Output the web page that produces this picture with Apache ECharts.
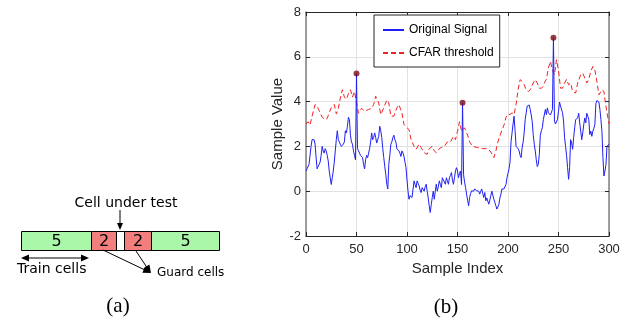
<!DOCTYPE html>
<html>
<head>
<meta charset="utf-8">
<script src="https://cdn.jsdelivr.net/npm/echarts@6/dist/echarts.min.js"></script>
<style>
  html, body { margin: 0; padding: 0; background: #fff; }
  #main { width: 626px; height: 320px; }
</style>
</head>
<body>
<div id="main"></div>
<script>
// sample values of the original signal, index 0..300
var signal = [
  0.9, 1.0, 1.0, 1.2, 1.6, 2.0, 2.3, 2.3, 2.3, 2.1,
  1.5, 1.0, 1.1, 1.2, 1.3, 1.6, 2.0, 1.8, 1.7, 1.9,
  1.8, 1.6, 1.35, 0.9, 0.6, 0.3, 0.6, 0.9, 1.3, 1.8,
  2.3, 2.7, 2.3, 2.2, 2.1, 2.0, 2.0, 2.1, 2.2, 2.7,
  2.6, 2.9, 3.3, 3.2, 2.5, 2.2, 2.1, 1.8, 1.6, 1.4,
  5.25, 1.9, 1.8, 1.8, 1.6, 1.6, 1.5, 1.2, 1.0, 1.4,
  1.6, 1.5, 1.7, 1.9, 2.2, 2.6, 2.3, 2.4, 2.6, 2.4,
  2.15, 2.3, 2.45, 2.9, 2.7, 2.4, 1.9, 1.5, 1.1, 0.75,
  0.3, 0.1, 1.2, 1.6, 2.1, 2.2, 2.4, 2.5, 2.3, 2.2,
  1.9, 1.85, 1.8, 1.7, 1.55, 1.8, 1.7, 1.55, 1.3, 1.05,
  0.5, 0.0, -0.36, -0.2, -0.13, -0.28, 0.1, 0.46, 0.3, 0.16,
  0.46, 0.35, 0.24, 0.05, -0.06, 0.16, 0.1, 0.0, 0.2, 0.31,
  0.0, -0.3, -0.65, -0.95, -0.6, -0.28, 0.0, -0.36, 0.0, 0.31,
  0.0, 0.2, 0.46, 0.3, 0.16, 0.6, 0.5, 0.46, 0.31, 0.6,
  0.45, 0.31, 0.6, 0.7, 0.83, 0.5, 0.31, 0.6, 0.9, 1.05,
  0.9, 0.6, 0.8, 0.9, 0.3, 3.95, 0.75, 0.4, 0.16, -0.13,
  -0.4, -0.65, -0.28, -0.1, 0.02, -0.06, 0.0, 0.1, 0.05, 0.02,
  0.02, 0.0, -0.13, 0.0, 0.1, -0.1, -0.28, -0.06, -0.43, -0.3,
  -0.28, -0.58, -0.4, -0.2, 0.0, 0.02, -0.36, -0.5, -0.65, -0.8,
  -0.7, -0.58, -0.3, -0.13, 0.1, 0.16, 0.1, 0.16, 0.3, 0.6,
  0.8, 1.0, 1.3, 2.2, 2.6, 3.0, 3.35, 2.7, 2.0, 1.94,
  1.9, 1.8, 1.6, 1.5, 1.94, 2.2, 2.6, 3.2, 3.5, 3.8,
  3.87, 3.85, 3.65, 3.4, 3.1, 2.5, 2.1, 1.8, 1.4, 1.1,
  1.2, 1.64, 2.5, 2.7, 2.83, 3.2, 3.13, 3.65, 3.42, 3.72,
  3.5, 3.57, 3.4, 3.35, 3.65, 6.85, 3.13, 3.0, 2.98, 3.2,
  3.57, 3.98, 3.8, 3.85, 3.5, 3.13, 2.4, 2.0, 1.6, 1.05,
  0.53, 1.05, 2.3, 2.15, 1.87, 2.4, 2.83, 3.2, 3.2, 3.27,
  3.48, 3.05, 2.68, 2.3, 2.6, 2.98, 3.27, 3.05, 3.48, 3.35,
  3.2, 2.53, 2.68, 2.45, 2.68, 2.8, 2.98, 3.9, 4.05, 4.0,
  3.98, 3.65, 3.2, 2.68, 1.5, 0.68, 0.9, 1.2, 2.0, 2.05,
  2.1
];

// CFAR threshold, read at these sample indices
var thrIdx = [
  0, 2, 4, 6, 9, 11, 13, 16, 19, 21, 23, 25, 28, 30, 32, 34, 36, 38, 40, 42,
  44, 46, 48, 50, 52, 55, 58, 62, 65, 67, 69, 72, 74, 77, 80, 82, 84, 87, 90, 92,
  95, 97, 100, 102, 104, 107, 109, 112, 114, 117, 120, 122, 125, 127, 129, 132, 134, 137, 140, 143,
  146, 148, 150, 152, 154, 155, 157, 158, 160, 162, 165, 170, 175, 180, 183, 186, 188, 190, 193, 196,
  198, 200, 202, 204, 206, 208, 210, 212, 214, 216, 218, 220, 222, 225, 227, 229, 231, 233, 235, 236,
  238, 240, 242, 244, 246, 248, 250, 252, 254, 256, 258, 260, 262, 264, 267, 269, 272, 274, 276, 278,
  280, 282, 284, 286, 288, 290, 291, 293, 295, 296, 298, 300
];
var thrVal = [
  3.0, 3.1, 2.95, 3.35, 3.87, 3.8, 3.6, 3.3, 3.2, 3.25, 3.5, 3.72, 3.87, 3.45, 3.7, 4.16, 4.53, 4.2, 4.1, 4.35,
  4.53, 4.2, 4.45, 3.94, 3.48, 3.7, 3.57, 3.65, 3.7, 3.87, 4.24, 3.94, 3.42, 3.72, 4.08, 3.94, 3.35, 3.35, 3.72, 3.87,
  3.48, 2.98, 2.83, 2.75, 2.3, 2.0, 1.87, 2.1, 1.95, 1.72, 1.65, 1.9, 2.0, 1.8, 1.72, 1.9, 1.95, 2.0, 2.2, 2.2,
  2.45, 2.3, 2.68, 3.1, 2.68, 2.6, 2.83, 2.9, 2.5, 2.2, 2.0, 1.95, 1.9, 1.9, 1.75, 1.5, 1.8, 2.2, 2.6, 2.95,
  3.3, 3.45, 3.42, 3.5, 3.42, 3.87, 4.53, 4.98, 4.9, 4.75, 4.53, 4.45, 4.53, 4.83, 4.98, 4.83, 4.6, 4.6, 4.68, 4.83,
  5.0, 5.5, 5.8, 5.4, 5.2, 5.87, 5.4, 4.6, 4.6, 4.83, 5.0, 4.75, 4.83, 4.45, 4.38, 4.83, 5.2, 5.27, 5.05, 4.83,
  5.0, 5.35, 5.57, 5.42, 4.9, 4.3, 4.3, 4.53, 4.45, 4.08, 3.5, 3.0
];

// detected peaks
var peakIdx = [50, 155, 245];
var peakVal = [5.25, 3.95, 6.85];

var xTicks = { min: 0, max: 300, interval: 50 };
var yTicks = { min: -2, max: 8, interval: 2 };

// window layout of panel (a)
var cellLabels = ['5', '2', '', '2', '5'];

var myChart = echarts.init(document.getElementById('main'));

var axisFont = 'Liberation Sans';
var dgFont = 'DejaVu Sans';

function arrowHead(x1, y1, x2, y2, len, half) {
  var a = Math.atan2(y2 - y1, x2 - x1);
  var bx = x2 - len * Math.cos(a), by = y2 - len * Math.sin(a);
  return {
    type: 'polygon',
    shape: { points: [[x2, y2],
      [bx + half * Math.sin(a), by - half * Math.cos(a)],
      [bx - half * Math.sin(a), by + half * Math.cos(a)]] },
    style: { fill: '#000' }
  };
}
function seg(x1, y1, x2, y2) {
  return { type: 'line', shape: { x1: x1, y1: y1, x2: x2, y2: y2 }, style: { stroke: '#000', lineWidth: 1 } };
}

// cells of the CFAR window
var cellX = [21, 91, 116, 124, 151, 219];
var cellFill = ['#aaf7aa', '#f27e7e', '#ffffff', '#f27e7e', '#aaf7aa'];
var diagram = [];
for (var k = 0; k < cellLabels.length; k++) {
  diagram.push({
    type: 'rect',
    shape: { x: cellX[k] + 0.5, y: 231.5, width: cellX[k + 1] - cellX[k], height: 19 },
    style: { fill: cellFill[k], stroke: '#000', lineWidth: 1 }
  });
  if (cellLabels[k]) {
    diagram.push({
      type: 'text',
      style: { x: (cellX[k] + cellX[k + 1]) / 2 + 0.5, y: 241.5, text: cellLabels[k],
        fill: '#000', font: '16px "' + dgFont + '"', align: 'center', verticalAlign: 'middle' }
    });
  }
}
diagram.push(
  { type: 'text', style: { x: 126, y: 203, text: 'Cell under test', fill: '#000',
      font: '14px "' + dgFont + '"', align: 'center', verticalAlign: 'middle' } },
  seg(120, 210, 120, 224), arrowHead(120, 210, 120, 230, 7, 3),
  seg(26, 258, 83, 258), arrowHead(50, 258, 21, 258, 8, 3.5), arrowHead(60, 258, 89, 258, 8, 3.5),
  { type: 'text', style: { x: 17, y: 269, text: 'Train cells', fill: '#000',
      font: '14px "' + dgFont + '"', align: 'left', verticalAlign: 'middle' } },
  seg(103, 250, 145, 270), arrowHead(103, 250, 151, 273, 8, 3.5),
  seg(136, 251, 148, 269), arrowHead(136, 251, 151, 273, 8, 3.5),
  { type: 'text', style: { x: 157, y: 273, text: 'Guard cells', fill: '#000',
      font: '12px "' + dgFont + '"', align: 'left', verticalAlign: 'middle' } },
  { type: 'text', style: { x: 118, y: 306, text: '(a)', fill: '#000',
      font: '21px "Liberation Serif"', align: 'center', verticalAlign: 'middle' } },
  { type: 'text', style: { x: 446, y: 307, text: '(b)', fill: '#000',
      font: '21px "Liberation Serif"', align: 'center', verticalAlign: 'middle' } }
);

var sideAxis = {
  axisLabel: { show: false },
  axisTick: { inside: true, length: 4, lineStyle: { color: '#262626' } },
  splitLine: { show: false }
};

var option = {
  animation: false,
  backgroundColor: '#fff',
  textStyle: { fontFamily: axisFont },
  grid: { left: 306, top: 12, width: 303, height: 224 },
  legend: {
    left: 374, top: 15,
    orient: 'vertical',
    backgroundColor: '#fff',
    borderColor: '#262626', borderWidth: 1,
    padding: [9, 6, 8, 8],
    itemWidth: 21, itemHeight: 12, itemGap: 11,
    itemStyle: { opacity: 0 },
    textStyle: { fontSize: 12, color: '#000', fontFamily: axisFont },
    data: ['Original Signal', 'CFAR threshold']
  },
  xAxis: [{
    type: 'value', min: xTicks.min, max: xTicks.max, interval: xTicks.interval,
    name: 'Sample Index', nameLocation: 'middle', nameGap: 25,
    nameTextStyle: { fontSize: 15, color: '#262626' },
    axisLine: { onZero: false, lineStyle: { color: '#262626', width: 1 } },
    axisTick: { inside: true, length: 4, lineStyle: { color: '#262626' } },
    axisLabel: { fontSize: 13, color: '#262626', margin: 7 },
    splitLine: { show: true, lineStyle: { color: '#e2e2e2' } }
  }, Object.assign({
    type: 'value', position: 'top', min: xTicks.min, max: xTicks.max, interval: xTicks.interval,
    axisLine: { show: true, onZero: false, lineStyle: { color: '#262626', width: 1 } }
  }, sideAxis)],
  yAxis: [{
    type: 'value', min: yTicks.min, max: yTicks.max, interval: yTicks.interval,
    name: 'Sample Value', nameLocation: 'middle', nameGap: 21,
    nameTextStyle: { fontSize: 15, color: '#262626' },
    axisLine: { show: true, onZero: false, lineStyle: { color: '#7f7f7f', width: 1.5 } },
    axisTick: { show: true, inside: true, length: 4, lineStyle: { color: '#262626' } },
    axisLabel: { fontSize: 13, color: '#262626', margin: 5 },
    splitLine: { show: true, lineStyle: { color: '#e2e2e2' } }
  }, Object.assign({
    type: 'value', position: 'right', min: yTicks.min, max: yTicks.max, interval: yTicks.interval,
    axisLine: { show: true, onZero: false, lineStyle: { color: '#7f7f7f', width: 1.5 } }
  }, sideAxis)],
  series: [
    {
      name: 'Original Signal',
      type: 'line',
      symbol: 'none',
      lineStyle: { color: '#1f1ff5', width: 1 },
      itemStyle: { color: '#1f1ff5' },
      data: signal.map(function (v, i) { return [i, v]; }),
      z: 3
    },
    {
      name: 'CFAR threshold',
      type: 'line',
      symbol: 'none',
      lineStyle: { color: '#ee2424', width: 1, type: [5, 3] },
      itemStyle: { color: '#ee2424' },
      data: thrIdx.map(function (x, i) { return [x, thrVal[i]]; }),
      z: 2
    },
    {
      name: 'Peaks',
      type: 'scatter',
      symbol: 'circle',
      symbolSize: 6,
      itemStyle: { color: '#7a0c18' },
      data: peakIdx.map(function (x, i) { return [x, peakVal[i]]; }),
      z: 4
    }
  ],
  graphic: diagram
};

myChart.setOption(option);
</script>
</body>
</html>
